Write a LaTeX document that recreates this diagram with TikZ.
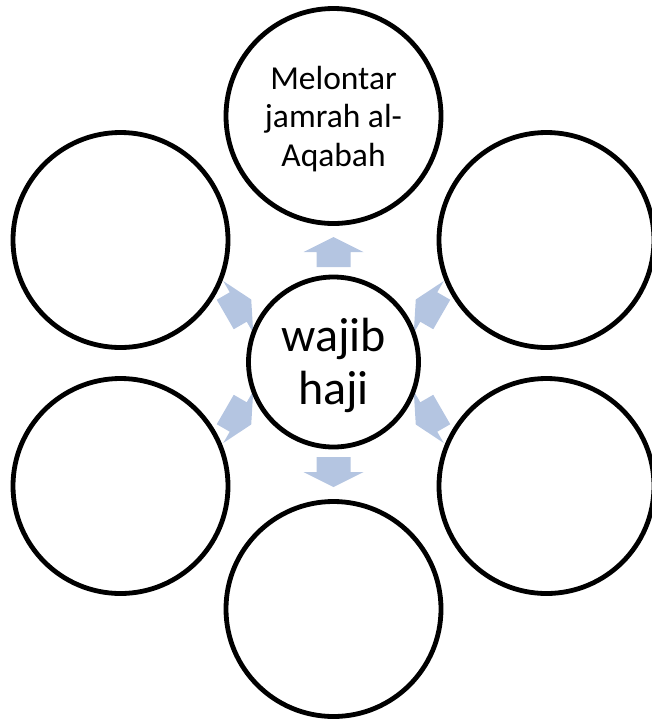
\documentclass[tikz,border=0pt]{standalone}
\usepackage{fontspec}
\setmainfont{Carlito}
\definecolor{arrowblue}{RGB}{180,197,225}
\begin{document}
\begin{tikzpicture}[x=1pt,y=-1pt,
  ring/.style={circle,draw=black,line width=4.8pt,fill=white,inner sep=0pt},
  outer/.style={ring,minimum size=215pt},
  hub/.style={ring,minimum size=170pt},
  labeltext/.style={align=center,inner sep=0pt},
  blockarrow/.pic={\fill[arrowblue] (-15,-17) -- (0,-17) -- (0,-30) -- (15,0) -- (0,30) -- (0,17) -- (-15,17) -- cycle;}
]
\useasboundingbox (0,0) rectangle (652,724);
\coordinate (c) at (333.5,362);
\foreach \a/\t in {90/top,30/ur,-30/lr,-90/bot,-150/ll,150/ul}{
  \path (c) ++({-\a}:110) coordinate (ar\t);
  \pic[rotate={180-\a}] at (ar\t) {blockarrow};
}
\node[hub] (hub) at (c) {};
\node[labeltext,font=\fontsize{48}{53}\selectfont] (hubtext) at ([yshift=-3pt]hub.center) {wajib\\haji};
\node[outer] (top) at (333.5,116) {};
\node[labeltext,font=\fontsize{33.5}{38.5}\selectfont] (toptext) at ([yshift=-3pt]top.center) {Melontar\\jamrah al-\\Aqabah};
\node[outer] (ur) at (546.5,240) {};
\node[outer] (lr) at (546.5,486) {};
\node[outer] (bot) at (333.5,609) {};
\node[outer] (ll) at (120.5,486) {};
\node[outer] (ul) at (120.5,240) {};
\end{tikzpicture}
\end{document}
